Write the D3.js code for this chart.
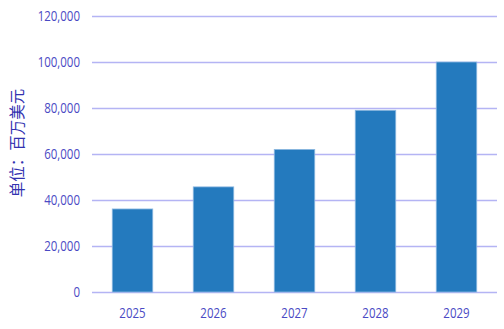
<!DOCTYPE html>
<html>
<head>
<meta charset="utf-8">
<script src="https://cdn.jsdelivr.net/npm/d3@7"></script>
<style>
  body { margin: 0; background: #fff; }
  svg { display: block; }
</style>
</head>
<body>
<svg></svg>
<script>
var width = 504;
var height = 329;

// chart data
var years = ["2025", "2026", "2027", "2028", "2029"];
var values = [36100, 45700, 62000, 79000, 100000];
var yTicks = [0, 20000, 40000, 60000, 80000, 100000, 120000];
var yTitle = "单位：百万美元";

var margin = {top: 16, right: 7, bottom: 37, left: 92};

var svg = d3.select("svg")
    .attr("width", width)
    .attr("height", height);

var x = d3.scaleBand()
    .domain(years)
    .range([margin.left, width - margin.right])
    .paddingInner(0.5)
    .paddingOuter(0.25);

var y = d3.scaleLinear()
    .domain([0, 120000])
    .range([height - margin.bottom, margin.top]);

var fmt = d3.format(",");
var labelFont = "'Open Sans', sans-serif";
var squeeze = 0.82; // the original labels use a narrow face

//gridlines
svg.append("g")
    .selectAll("line")
    .data(yTicks)
    .enter().append("line")
    .attr("x1", margin.left)
    .attr("x2", width - margin.right)
    .attr("y1", function(d) { return Math.round(y(d)) + 0.5; })
    .attr("y2", function(d) { return Math.round(y(d)) + 0.5; })
    .style("stroke", "#b4b4f4")
    .style("stroke-width", 1.3);

//y tick labels
svg.append("g")
    .selectAll("text")
    .data(yTicks)
    .enter().append("text")
    .attr("transform", function(d) { return "translate(80," + y(d) + ") scale(" + squeeze + ",1)"; })
    .attr("dy", "0.35em")
    .attr("text-anchor", "end")
    .style("font-family", labelFont)
    .style("font-size", "14px")
    .style("fill", "#4a4ac4")
    .text(function(d) { return fmt(d); });

//bars
svg.append("g")
    .selectAll("rect")
    .data(values)
    .enter().append("rect")
    .attr("x", function(d, i) { return x(years[i]); })
    .attr("y", function(d) { return y(d); })
    .attr("width", x.bandwidth())
    .attr("height", function(d) { return y(0) - y(d); })
    .style("fill", "#247abe")
    .style("stroke", "#8db8e0")
    .style("stroke-width", 0.8);

//x labels
svg.append("g")
    .selectAll("text")
    .data(years)
    .enter().append("text")
    .attr("transform", function(d) { return "translate(" + (x(d) + x.bandwidth() / 2) + ",313) scale(" + squeeze + ",1)"; })
    .attr("dy", "0.35em")
    .attr("text-anchor", "middle")
    .style("font-family", labelFont)
    .style("font-size", "14px")
    .style("fill", "#4a4ac4")
    .text(function(d) { return d; });

//y axis title
svg.append("text")
    .attr("transform", "translate(18,143) rotate(-90)")
    .attr("dy", "0.35em")
    .attr("text-anchor", "middle")
    .style("font-family", "'Noto Sans CJK SC', sans-serif")
    .style("font-size", "15.5px")
    .style("fill", "#3232b0")
    .text(yTitle);
</script>
</body>
</html>
